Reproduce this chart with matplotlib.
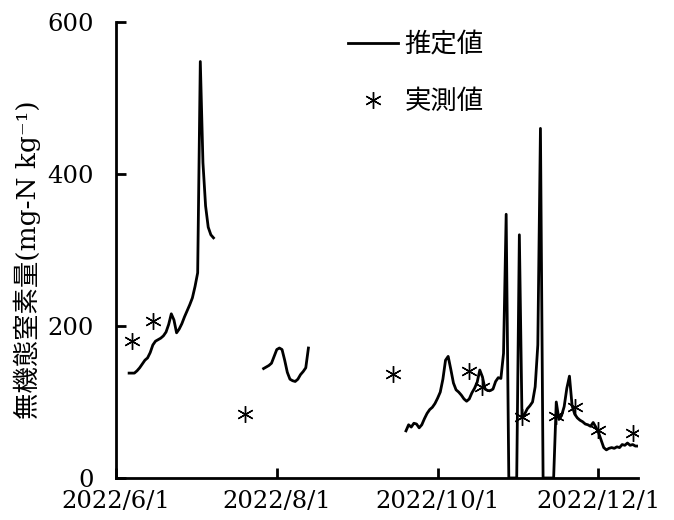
import matplotlib
matplotlib.use("Agg")
import matplotlib.pyplot as plt
import matplotlib.dates as mdates
import pandas as pd

# Estimated inorganic N, daily values for each simulation run
EST_JUN_START = "2022-06-06"
EST_JUN_VALUES = [138, 138, 138, 141, 145, 150, 155, 158, 165, 175,
                  180, 182, 184, 187, 192, 202, 216, 208, 191, 196,
                  203, 212, 220, 228, 237, 252, 270, 548, 415, 358,
                  330, 320, 316]

EST_JUL_START = "2022-07-27"
EST_JUL_VALUES = [144, 146, 148, 151, 160, 169, 171, 169, 155, 139,
                  130, 128, 127, 130, 136, 140, 145, 171]

EST_SEP_START = "2022-09-19"
EST_SEP_VALUES = [62, 70, 67, 72, 71, 66, 70, 78, 85, 90,
                  93, 98, 105, 113, 130, 155, 160, 143, 125, 116,
                  113, 109, 104, 101, 104, 112, 118, 126, 142, 133,
                  117, 115, 115, 117, 127, 132, 131, 164, 347, 0,
                  0, 0, 0, 320, 79, 84, 91, 95, 100, 120,
                  175, 460, 0, 0, 0, 0, 0, 100, 77, 82,
                  94, 118, 134, 95, 84, 79, 76, 74, 71, 70,
                  68, 73, 67, 60, 50, 40, 37, 39, 40, 39,
                  41, 40, 44, 43, 46, 43, 44, 42, 42]

# Measured values
OBS_DATES = ["2022-06-07", "2022-06-15", "2022-07-20", "2022-09-14",
             "2022-10-13", "2022-10-18", "2022-11-02", "2022-11-15",
             "2022-11-22", "2022-12-01", "2022-12-14"]
OBS_VALUES = [180, 206, 84, 137, 141, 120, 80, 82, 93, 63, 59]

X_TICKS = ["2022-06-01", "2022-08-01", "2022-10-01", "2022-12-01"]
Y_TICKS = [0, 200, 400, 600]

SERIF = "DejaVu Serif"
JP = ["DejaVu Serif", "Noto Sans CJK JP"]
LINE_W = 2.0
STAR = dict(marker=(6, 2, 0), markersize=12, markeredgewidth=1.0)


def daily(start, values):
    return pd.date_range(start, periods=len(values), freq="D")


fig = plt.figure(figsize=(6.74, 5.2), dpi=100)
ax = fig.add_axes([0.172, 0.0808, 0.7746, 0.8769])

for start, values in [(EST_JUN_START, EST_JUN_VALUES),
                      (EST_JUL_START, EST_JUL_VALUES),
                      (EST_SEP_START, EST_SEP_VALUES)]:
    ax.plot(daily(start, values), values, color="black", linewidth=LINE_W,
            solid_joinstyle="round")

ax.plot(pd.to_datetime(OBS_DATES), OBS_VALUES, linestyle="none",
        color="black", **STAR)

ax.set_xlim(pd.Timestamp("2022-06-01"), pd.Timestamp("2022-12-16"))
ax.set_ylim(0, 600)
ax.set_xticks(pd.to_datetime(X_TICKS))
ax.xaxis.set_major_formatter(
    matplotlib.ticker.FuncFormatter(
        lambda v, _: "{0.year}/{0.month}/{0.day}".format(mdates.num2date(v))))
ax.set_yticks(Y_TICKS)

for side in ("top", "right"):
    ax.spines[side].set_visible(False)
for side in ("left", "bottom"):
    ax.spines[side].set_linewidth(2.0)

ax.tick_params(axis="both", direction="in", length=7, width=2.0,
               labelsize=17.5)
ax.tick_params(axis="x", pad=9)
ax.tick_params(axis="y", pad=16)
for label in ax.get_xticklabels() + ax.get_yticklabels():
    label.set_fontfamily(SERIF)
# nudge the zero label up a touch so it clears the first date label
ax.get_yticklabels()[0].set_verticalalignment("center_baseline")

fig.text(0.040, 0.50, "無機態窒素量(mg-N kg⁻¹)", rotation=90,
         ha="center", va="center", fontsize=19, family=JP)

est_handle = matplotlib.lines.Line2D([], [], color="black", linewidth=LINE_W)
obs_handle = matplotlib.lines.Line2D([], [], color="black", linestyle="none",
                                     **STAR)
ax.legend([est_handle, obs_handle], ["推定値", "実測値"],
          loc="upper left", bbox_to_anchor=(348 / 674, 1 - 31 / 520),
          bbox_transform=fig.transFigure, frameon=False,
          prop={"family": "Noto Sans CJK JP", "size": 19},
          handlelength=1.9, handletextpad=0.25, labelspacing=1.15,
          borderpad=0, borderaxespad=0, numpoints=1)

fig.savefig("out.png", dpi=100)
